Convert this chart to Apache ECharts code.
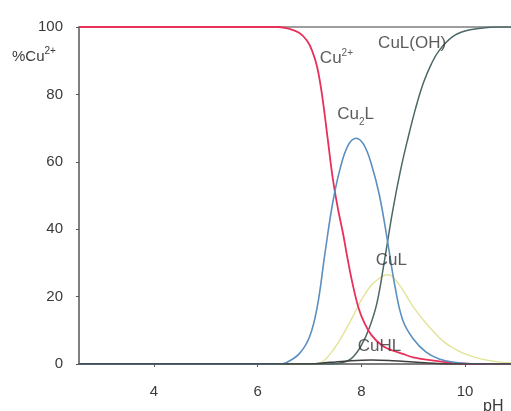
<!DOCTYPE html>
<html>
<head>
<meta charset="utf-8">
<script src="https://cdn.jsdelivr.net/npm/echarts@6/dist/echarts.min.js"></script>
<style>
html,body{margin:0;padding:0;background:#fff;}
#chart{width:511px;height:411px;}
</style>
</head>
<body>
<div id="chart"></div>
<script>
// ---- data ----
const xTicks = [4, 6, 8, 10];
const yTicks = [0, 20, 40, 60, 80, 100];

const cuPH  = [2.55, 6.4, 6.6, 6.8, 6.95, 7.05, 7.15, 7.25, 7.35, 7.45, 7.55, 7.65, 7.75, 7.85, 7.95, 8.05, 8.2, 8.4, 8.6, 8.8, 9.0, 9.4, 9.8, 10.2, 10.9];
const cuVal = [100, 100, 99.5, 98.3, 96, 93, 88, 79, 67, 55, 46, 38.5, 30, 22.5, 16.5, 12.5, 8.5, 5.5, 4, 3, 2, 1, 0.3, 0, 0];

const cu2lPH  = [2.55, 6.4, 6.55, 6.8, 7.0, 7.15, 7.3, 7.45, 7.6, 7.75, 7.9, 8.05, 8.2, 8.35, 8.5, 8.65, 8.8, 9.0, 9.25, 9.5, 9.8, 10.2, 10.9];
const cu2lVal = [0, 0, 0.4, 3, 8, 17, 33, 48, 58.5, 65, 67, 65, 59, 50, 37, 23, 13, 7.5, 3.5, 1.5, 0.5, 0, 0];

const culPH  = [2.55, 7.0, 7.2, 7.4, 7.6, 7.8, 8.0, 8.2, 8.4, 8.5, 8.6, 8.8, 9.0, 9.2, 9.4, 9.6, 9.8, 10.0, 10.3, 10.6, 10.9];
const culVal = [0, 0, 0.3, 3, 7.5, 13, 19, 23.5, 26, 26.5, 26, 22, 17, 13, 9.5, 6.5, 4.5, 3, 1.5, 0.7, 0.3];

const culohPH  = [2.55, 7.4, 7.6, 7.8, 8.0, 8.15, 8.3, 8.45, 8.6, 8.75, 8.9, 9.05, 9.2, 9.35, 9.5, 9.75, 10.0, 10.3, 10.6, 10.9];
const culohVal = [0, 0, 0.3, 1.5, 5.5, 10.5, 18, 31, 45, 57, 67, 76, 83.5, 89, 93, 97, 98.8, 99.6, 100, 100];

const cuhlPH  = [2.55, 7.0, 7.4, 7.8, 8.2, 8.6, 9.0, 9.4, 9.8, 10.9];
const cuhlVal = [0, 0, 0.5, 1, 1.2, 1, 0.6, 0.2, 0, 0];

const labelNames = ['Cu2+', 'CuL(OH)', 'Cu2L', 'CuL', 'CuHL'];
const labelPH    = [7.52, 8.98, 7.89, 8.58, 8.35];
const labelPct   = [91, 95.3, 73.5, 30.9, 5.3];

// ---- chart ----
const pairs = (xs, ys) => xs.map((x, i) => [x, ys[i]]);
const font = 'Liberation Sans, Arial, sans-serif';
const txt = '#3a3a3a';

const labelText = {
  'Cu2+': '{a|Cu}{sup|2+}',
  'CuL(OH)': '{a|CuL(OH)}',
  'Cu2L': '{b|Cu}{sub|2}{b|L}',
  'CuL': '{a|CuL}',
  'CuHL': '{a|CuHL}'
};

function lineSeries(name, xs, ys, color, width, z) {
  return {
    name, type: 'line', data: pairs(xs, ys), showSymbol: false, symbol: 'none',
    smooth: 0.4, z: z,
    lineStyle: { color, width }, emphasis: { disabled: true }
  };
}

const chart = echarts.init(document.getElementById('chart'), null, { renderer: 'canvas' });
chart.setOption({
  animation: false,
  backgroundColor: '#fff',
  grid: { left: 79, right: 0, top: 27, bottom: 47, containLabel: false },
  xAxis: [{
    type: 'value', min: 2.553, max: 10.888, position: 'bottom',
    splitLine: { show: false },
    axisLine: { show: true, onZero: false, lineStyle: { color: '#555', width: 1.5 } },
    axisTick: { show: true, length: 3, customValues: xTicks, lineStyle: { color: '#555' } },
    axisLabel: { customValues: xTicks, margin: 20, color: txt, fontSize: 15, fontFamily: font }
  }, {
    type: 'value', min: 2.553, max: 10.888, position: 'top',
    splitLine: { show: false },
    axisLine: { show: true, onZero: false, lineStyle: { color: '#7e7e7e', width: 1.5 } },
    axisTick: { show: false }, axisLabel: { show: false }
  }],
  yAxis: {
    type: 'value', min: 0, max: 100, interval: 20,
    splitLine: { show: false },
    axisLine: { show: true, lineStyle: { color: '#555', width: 1.5 } },
    axisTick: { show: true, length: 3, lineStyle: { color: '#555' } },
    axisLabel: { margin: 16, color: txt, fontSize: 15, fontFamily: font }
  },
  graphic: [
    { type: 'text', left: 12, top: 46,
      style: { rich: { a: { fontSize: 15, fontFamily: font, fill: txt, verticalAlign: 'bottom' },
                       sup: { fontSize: 10, fontFamily: font, fill: txt, verticalAlign: 'bottom', padding: [0, 0, 8, 0] } },
               text: '{a|%Cu}{sup|2+}' } },
    { type: 'text', left: 483, top: 399,
      style: { text: 'pH', fontSize: 16, fontFamily: font, fill: txt } }
  ],
  series: [
    lineSeries('CuL', culPH, culVal, '#e3e398', 1.4, 2),
    lineSeries('CuL(OH)', culohPH, culohVal, '#4b6866', 1.5, 3),
    lineSeries('Cu2+', cuPH, cuVal, '#e8305a', 1.8, 4),
    lineSeries('Cu2L', cu2lPH, cu2lVal, '#5b8fc0', 1.6, 5),
    lineSeries('CuHL', cuhlPH, cuhlVal, '#3e3e3e', 1.5, 6),
    {
      type: 'scatter', z: 10, symbolSize: 0, silent: true,
      data: labelNames.map((n, i) => ({ value: [labelPH[i], labelPct[i]], name: n })),
      label: {
        show: true, position: 'inside',
        formatter: p => labelText[p.name],
        rich: {
          a: { fontSize: 17, fontFamily: font, color: '#333', verticalAlign: 'bottom' },
          b: { fontSize: 17, fontFamily: font, color: '#333', verticalAlign: 'bottom', padding: [0, 0, 4, 0] },
          sup: { fontSize: 10, fontFamily: font, color: '#333', verticalAlign: 'bottom', padding: [0, 0, 9, 0] },
          sub: { fontSize: 10, fontFamily: font, color: '#333', verticalAlign: 'bottom' }
        }
      }
    }
  ]
});
</script>
</body>
</html>
